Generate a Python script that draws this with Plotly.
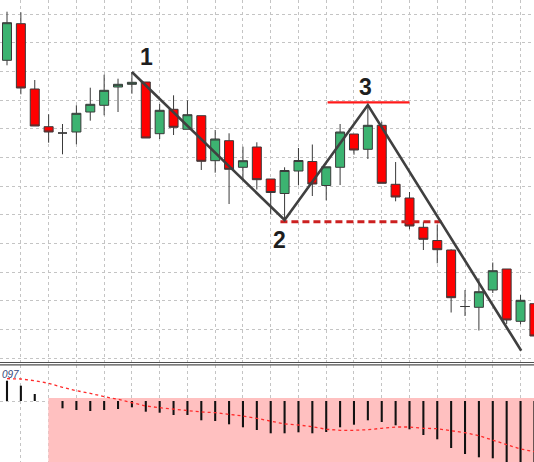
import plotly.graph_objects as go
from plotly.subplots import make_subplots

# ---------------------------------------------------------------------------
# candles (price in chart units)
# ---------------------------------------------------------------------------
bar_idx = list(range(39))
opens = [339.7, 376.3, 311.0, 273.3, 267.0, 268.0, 288.0, 294.7, 313.0, 315.7,
         318.0, 266.3, 290.7, 270.7, 284.3, 239.3, 259.3, 232.7, 253.0, 221.0,
         206.5, 229.0, 238.5, 214.5, 232.7, 266.0, 250.7, 274.7, 215.7, 202.0,
         172.7, 159.5, 150.0, 93.5, 92.7, 110.0, 131.0, 78.7, 96.3]
highs = [388.3, 387.7, 320.0, 285.7, 276.0, 294.7, 312.3, 325.3, 321.3, 328.0,
         318.0, 296.0, 304.7, 299.7, 284.3, 270.0, 266.7, 253.3, 257.7, 221.0,
         232.7, 252.0, 255.5, 233.2, 276.0, 266.0, 293.3, 278.3, 238.0, 208.0,
         178.3, 175.3, 150.7, 110.0, 121.7, 137.5, 131.0, 105.0, 96.3]
lows = [334.7, 305.7, 274.0, 257.3, 245.7, 255.7, 279.3, 284.7, 288.0, 306.3,
        262.0, 261.0, 265.0, 270.7, 230.0, 227.3, 196.0, 221.0, 210.5, 186.0,
        180.0, 214.7, 204.0, 199.7, 215.0, 245.3, 241.0, 216.7, 198.7, 170.7,
        150.0, 136.7, 87.5, 84.0, 69.5, 107.0, 76.0, 75.7, 64.0]
closes = [377.3, 312.0, 274.0, 268.0, 267.0, 286.7, 295.7, 309.7, 315.7, 317.7,
          262.0, 289.7, 272.7, 285.3, 238.7, 261.0, 230.7, 239.3, 220.3, 207.5,
          229.5, 239.5, 216.0, 233.2, 268.0, 250.0, 274.7, 216.7, 203.0, 174.0,
          160.7, 150.3, 102.3, 93.5, 108.3, 129.3, 80.0, 99.7, 64.0]

# hand-drawn pattern: zigzag 1-2-3 and breakout, level lines
zig_x = [9, 20, 26, 37.05]
zig_y = [328.0, 180.0, 295.0, 49.3]
top_x = [23.1, 29.0]
top_y = [297.7, 297.7]
neck_x = [19.7, 31.3]
neck_y = [178.3, 178.3]
labels = ["1", "2", "3"]
label_x = [10.06, 19.6, 25.84]
label_y = [343.0, 160.0, 312.7]

# oscillator panel
hist = [20.3, 15.3, 7.0, 0.0, -7.3, -9.0, -10.0, -9.0, -8.0, -6.3,
        -10.7, -11.7, -14.0, -14.0, -19.3, -20.0, -23.3, -26.3, -29.0, -32.3,
        -32.3, -31.3, -32.3, -31.0, -26.3, -23.7, -19.3, -21.0, -24.3, -28.3,
        -34.0, -38.3, -47.0, -53.0, -56.3, -57.3, -62.0, -64.0, -66.0]
signal = [22.3, 22.0, 20.3, 17.7, 13.7, 10.3, 7.7, 4.3, 1.7, -2.0,
          -5.0, -6.7, -8.3, -9.7, -11.0, -11.7, -13.0, -15.0, -17.3, -20.0,
          -23.0, -24.0, -25.7, -28.3, -29.3, -29.3, -28.7, -27.3, -26.0, -26.0,
          -27.3, -27.7, -29.7, -31.7, -34.7, -39.0, -43.0, -48.0, -50.7]

GRID = "#c4c4c4"
W, H = 534, 462

fig = make_subplots(rows=2, cols=1, shared_xaxes=True, vertical_spacing=0,
                    row_heights=[0.78, 0.22])

fig.add_trace(go.Candlestick(
    x=bar_idx, open=opens, high=highs, low=lows, close=closes,
    increasing=dict(fillcolor="#3cb371", line=dict(color="#3a3a3a", width=1)),
    decreasing=dict(fillcolor="#ff0000", line=dict(color="#3a3a3a", width=1)),
    whiskerwidth=0, showlegend=False, hoverinfo="skip",
), row=1, col=1)

fig.add_trace(go.Scatter(x=top_x, y=top_y, mode="lines",
                         line=dict(color="#ff1a1a", width=2.2),
                         showlegend=False, hoverinfo="skip"), row=1, col=1)
fig.add_trace(go.Scatter(x=neck_x, y=neck_y, mode="lines",
                         line=dict(color="#cc2020", width=3, dash="7px,4px"),
                         showlegend=False, hoverinfo="skip"), row=1, col=1)
fig.add_trace(go.Scatter(x=zig_x, y=zig_y, mode="lines",
                         line=dict(color="#404040", width=2.6),
                         showlegend=False, hoverinfo="skip"), row=1, col=1)

fig.add_trace(go.Bar(x=bar_idx, y=hist, width=0.15, marker_color="#111111",
                     marker_line_width=0, showlegend=False, hoverinfo="skip"),
              row=2, col=1)
fig.add_trace(go.Scatter(x=bar_idx, y=signal, mode="lines",
                         line=dict(color="#ff2a2a", width=1.3, dash="dot"),
                         showlegend=False, hoverinfo="skip"), row=2, col=1)

for t, lx, ly in zip(labels, label_x, label_y):
    fig.add_annotation(x=lx, y=ly, xref="x", yref="y", text=t, showarrow=False,
                       font=dict(family="Arial, Liberation Sans", size=23,
                                 color="#1e1e1e", weight="bold"))

# pink zone of the oscillator
fig.add_shape(type="rect", xref="x2", yref="y2", x0=2.98, x1=40, y0=-80, y1=3,
              fillcolor="#ffc0c0", line_width=0, layer="between")

# panel separator (double line)
for py in (362.5, 364.8):
    fig.add_shape(type="line", xref="paper", yref="paper", x0=0, x1=1,
                  y0=1 - py / H, y1=1 - py / H,
                  line=dict(color="#505050", width=1.2))

fig.add_annotation(x=0, y=1 - 366.5 / H, xref="paper", yref="paper",
                   text="097", showarrow=False, xanchor="left", yanchor="top",
                   font=dict(family="Arial, Liberation Sans", size=10,
                             color="#34487a", style="italic"))

xgrid = dict(range=[-0.504, 37.97], showticklabels=False, ticks="",
             tick0=1, dtick=2, showgrid=True, gridcolor=GRID, gridwidth=1,
             griddash="3px,3px", zeroline=False, showline=False)
fig.update_xaxes(**xgrid)
fig.update_xaxes(rangeslider=dict(visible=False))

fig.update_yaxes(row=1, col=1, domain=[100 / H, 1], range=[38, 400],
                 tick0=386, dtick=28.67, showticklabels=False, ticks="",
                 showgrid=True, gridcolor=GRID, gridwidth=1, griddash="3px,3px",
                 zeroline=False)
fig.update_yaxes(row=2, col=1, domain=[0, 97 / H], range=[-61, 36],
                 tickmode="array", tickvals=[0], showticklabels=False, ticks="",
                 showgrid=True, gridcolor=GRID, gridwidth=1, griddash="3px,3px",
                 zeroline=False)

fig.update_layout(
    width=W, height=H,
    margin=dict(l=0, r=0, t=0, b=0),
    paper_bgcolor="white", plot_bgcolor="white",
    boxgap=0.1, boxgroupgap=0.28,
    showlegend=False,
)

# page body has a default margin; drop it so the chart sits at the corner
fig.write_html("out.html", config={"displayModeBar": False},
               post_script="document.body.style.margin='0px';")
